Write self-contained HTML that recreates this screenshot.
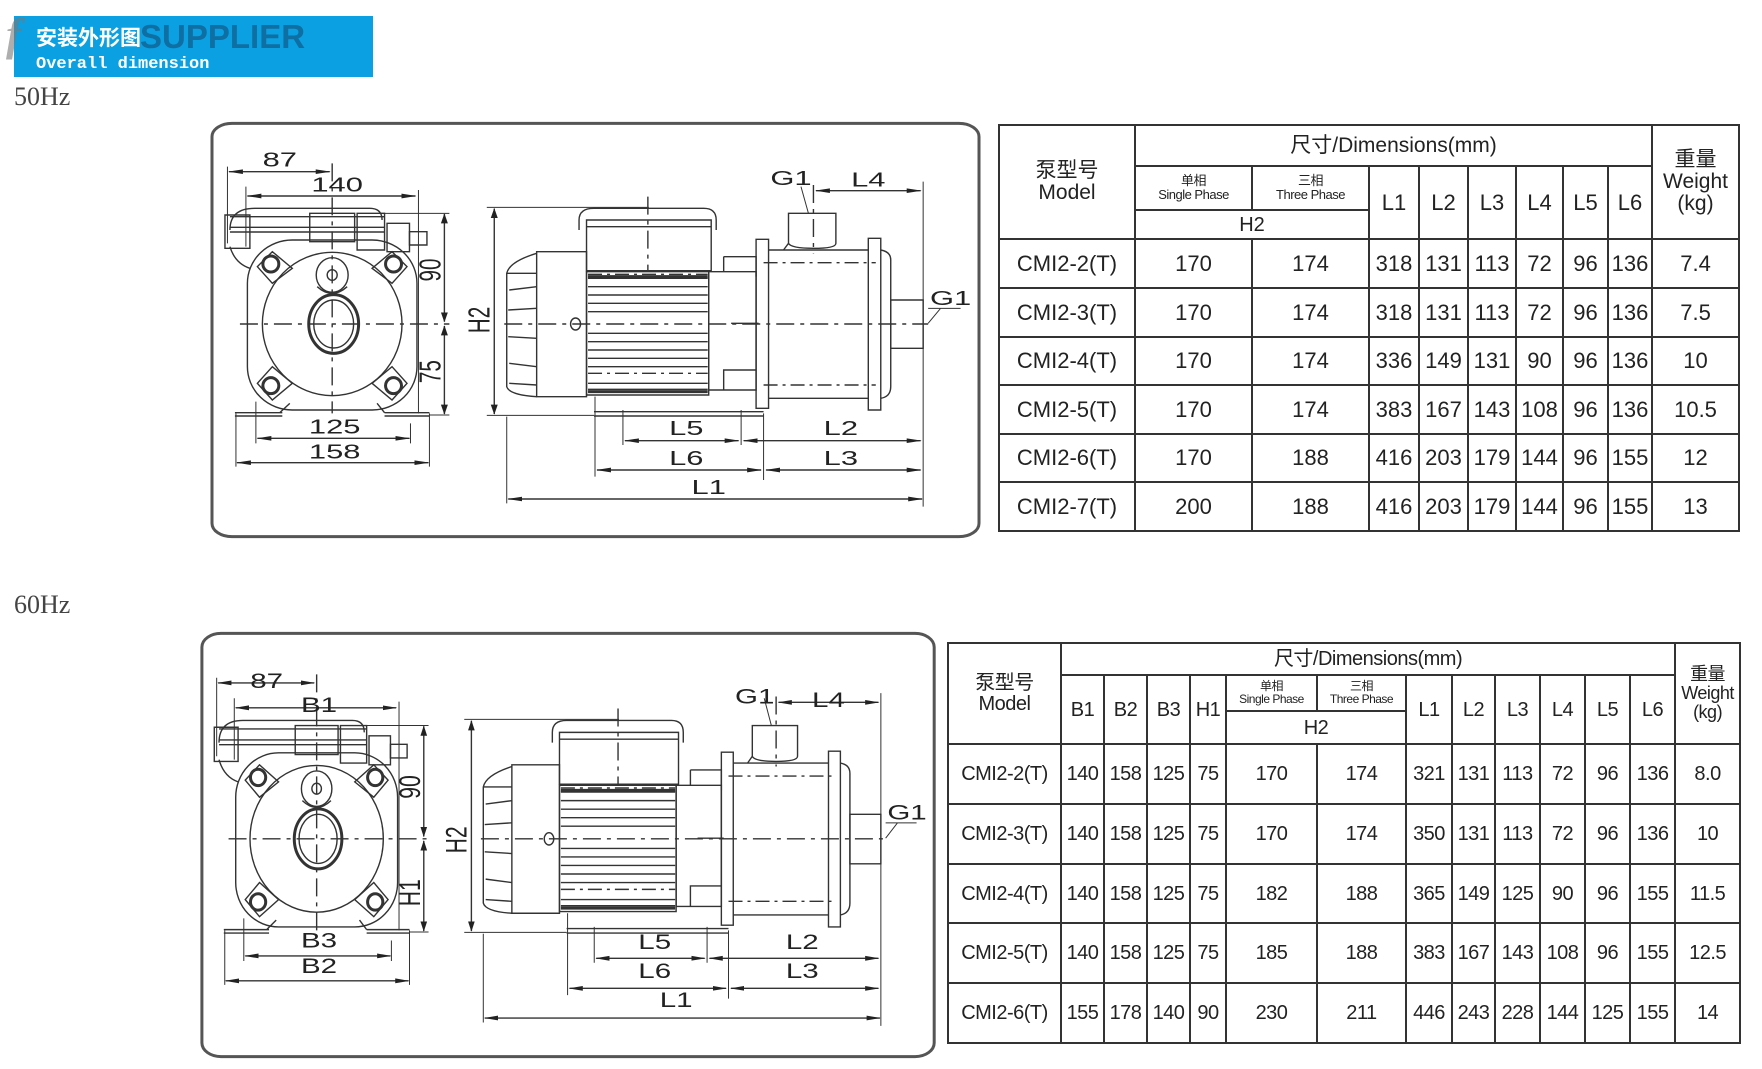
<!DOCTYPE html>
<html><head><meta charset="utf-8">
<style>
html,body{margin:0;padding:0;background:#fff;}
body{width:1762px;height:1069px;position:relative;overflow:hidden;font-family:"Liberation Sans","Noto Sans CJK SC",sans-serif;color:#222;}
.abs{position:absolute;}
table{border-collapse:collapse;table-layout:fixed;position:absolute;}
td{border:2px solid #333;padding:0;text-align:center;vertical-align:middle;white-space:nowrap;overflow:hidden;line-height:1;}
.t1 td{font-size:22px;}
.t2 td{font-size:20px;letter-spacing:-0.5px;}
.sm{font-size:13px !important;line-height:1.05 !important;letter-spacing:-0.5px;}
.sm2{font-size:12px !important;line-height:1.05 !important;letter-spacing:-0.8px;}
svg text{font-family:"Liberation Sans",sans-serif;fill:#222;}
</style></head><body>

<!-- header -->
<div class="abs" style="left:14px;top:16px;width:359px;height:61px;background:#0aa0e2;"></div>
<div class="abs" style="left:6px;top:8px;width:40px;height:50px;font:italic bold 46px 'Liberation Serif',serif;color:rgba(120,120,120,0.6);">f</div>
<div class="abs" style="left:36px;top:22px;font:bold 21px 'Noto Sans CJK SC',sans-serif;color:#fff;">安装外形图</div>
<div class="abs" style="left:140px;top:18px;font:bold 33px 'Liberation Sans',sans-serif;color:rgba(20,70,110,0.55);">SUPPLIER</div>
<div class="abs" style="left:36px;top:55px;font:bold 17px 'Liberation Mono',monospace;color:#fff;">Overall dimension</div>
<div class="abs" style="left:14px;top:82px;font:26px 'Liberation Serif',serif;color:#444;">50Hz</div>
<div class="abs" style="left:14px;top:590px;font:26px 'Liberation Serif',serif;color:#444;">60Hz</div>

<!-- drawing 1 -->
<svg class="abs" style="left:210px;top:120px;" width="773" height="420" viewBox="0 0 1550 1260" preserveAspectRatio="none">
<defs>
<marker id="ar" markerUnits="userSpaceOnUse" markerWidth="30" markerHeight="20" refX="28" refY="10" orient="auto-start-reverse" viewBox="0 0 30 20"><path d="M0,3 L30,10 L0,17 Z" fill="#222"/></marker>
</defs>
<g id="pump" fill="none" stroke="#333" stroke-width="1.4">
<g vector-effect="non-scaling-stroke">
<rect x="4" y="10" width="1538" height="1240" rx="40" ry="40" stroke="#555" stroke-width="3" vector-effect="non-scaling-stroke"/>
<path d="M40,330 Q40,265 90,265 L320,265 Q345,265 345,300" vector-effect="non-scaling-stroke"/>
<path d="M40,290 H350 M40,322 H350 M40,336 H350" vector-effect="non-scaling-stroke"/>
<rect x="30" y="285" width="50" height="100" vector-effect="non-scaling-stroke"/>
<rect x="200" y="280" width="90" height="85" vector-effect="non-scaling-stroke"/>
<rect x="295" y="280" width="55" height="110" vector-effect="non-scaling-stroke"/>
<rect x="355" y="310" width="45" height="85" vector-effect="non-scaling-stroke"/>
<rect x="400" y="335" width="35" height="40" vector-effect="non-scaling-stroke"/>
<path d="M40,380 Q50,430 80,445" vector-effect="non-scaling-stroke"/>
<rect x="75" y="360" width="340" height="510" rx="90" ry="130" vector-effect="non-scaling-stroke"/>
<ellipse cx="245" cy="612" rx="140" ry="215" vector-effect="non-scaling-stroke"/>
<g vector-effect="non-scaling-stroke">
<path d="M95,440 L125,395 L165,445 L125,490 Z M395,440 L365,395 L325,445 L365,490 Z M95,790 L125,740 L165,790 L125,840 Z M395,790 L365,740 L325,790 L365,840 Z" vector-effect="non-scaling-stroke"/>
<ellipse cx="122" cy="432" rx="16" ry="24" stroke-width="3" vector-effect="non-scaling-stroke"/>
<ellipse cx="368" cy="432" rx="16" ry="24" stroke-width="3" vector-effect="non-scaling-stroke"/>
<ellipse cx="122" cy="797" rx="16" ry="24" stroke-width="3" vector-effect="non-scaling-stroke"/>
<ellipse cx="368" cy="797" rx="16" ry="24" stroke-width="3" vector-effect="non-scaling-stroke"/>
</g>
<ellipse cx="245" cy="465" rx="32" ry="52" vector-effect="non-scaling-stroke"/>
<ellipse cx="245" cy="465" rx="10" ry="16" vector-effect="non-scaling-stroke"/>
<path d="M215,500 Q245,540 275,500" vector-effect="non-scaling-stroke"/>
<ellipse cx="248" cy="612" rx="50" ry="88" stroke-width="3" vector-effect="non-scaling-stroke"/>
<ellipse cx="248" cy="612" rx="40" ry="72" vector-effect="non-scaling-stroke"/>
<path d="M50,878 H145 M50,888 H145 M350,878 H440 M350,888 H440 M140,878 L160,850 M350,878 L335,850" vector-effect="non-scaling-stroke"/>
<path d="M60,612 H480 M245,130 V880" stroke-dasharray="18 6 4 6" vector-effect="non-scaling-stroke"/>
<path d="M35,140 V370 M72,200 V380 M418,210 V880 M340,280 H480 M440,885 H480 M92,845 V970 M402,910 V970 M52,880 V1040 M440,880 V1040" stroke-width="1" vector-effect="non-scaling-stroke"/>
<line x1="38" y1="155" x2="240" y2="155" marker-start="url(#ar)" marker-end="url(#ar)" vector-effect="non-scaling-stroke"/>
<line x1="75" y1="228" x2="412" y2="228" marker-start="url(#ar)" marker-end="url(#ar)" vector-effect="non-scaling-stroke"/>
<line x1="470" y1="282" x2="470" y2="605" marker-start="url(#ar)" marker-end="url(#ar)" vector-effect="non-scaling-stroke"/>
<line x1="470" y1="618" x2="470" y2="882" marker-start="url(#ar)" marker-end="url(#ar)" vector-effect="non-scaling-stroke"/>
<line x1="95" y1="955" x2="400" y2="955" marker-start="url(#ar)" marker-end="url(#ar)" vector-effect="non-scaling-stroke"/>
<line x1="54" y1="1028" x2="438" y2="1028" marker-start="url(#ar)" marker-end="url(#ar)" vector-effect="non-scaling-stroke"/>
<path d="M655,395 H755 V830 H655 Z" vector-effect="non-scaling-stroke"/>
<path d="M655,400 Q600,425 595,460 V800 Q600,825 655,830 M595,460 H655 M600,510 L655,500 M598,570 L655,565 M598,650 L655,655 M600,730 L655,740 M600,790 L655,795" vector-effect="non-scaling-stroke"/>
<rect x="755" y="455" width="245" height="370" vector-effect="non-scaling-stroke"/>
<path d="M758,475 H998 M758,500 H998 M758,525 H998 M758,550 H998 M758,575 H998 M758,640 H998 M758,665 H998 M758,690 H998 M758,715 H998 M758,740 H998 M758,790 H998 M758,808 H998" vector-effect="non-scaling-stroke"/>
<path d="M758,470 H998 M758,815 H998" stroke-width="3" vector-effect="non-scaling-stroke"/>
<path d="M758,463 H998 M758,760 H998" stroke-dasharray="14 5 3 5" vector-effect="non-scaling-stroke"/>
<path d="M740,330 V300 Q740,265 770,265 H990 Q1015,265 1015,300 V330" vector-effect="non-scaling-stroke"/>
<rect x="755" y="300" width="250" height="152" vector-effect="non-scaling-stroke"/>
<path d="M755,320 H1005" vector-effect="non-scaling-stroke"/>
<ellipse cx="733" cy="612" rx="10" ry="18" vector-effect="non-scaling-stroke"/>
<rect x="1000" y="455" width="95" height="355" vector-effect="non-scaling-stroke"/>
<path d="M1030,410 H1095 V470 M1030,410 V455 M1030,810 V750 H1095 M1045,610 H1100" vector-effect="non-scaling-stroke"/>
<rect x="1095" y="358" width="25" height="507" vector-effect="non-scaling-stroke"/>
<rect x="1320" y="355" width="25" height="515" vector-effect="non-scaling-stroke"/>
<path d="M1120,390 H1320 M1120,835 H1320" vector-effect="non-scaling-stroke"/>
<path d="M1110,428 H1335 M1110,795 H1335" stroke-dasharray="14 5 3 5" vector-effect="non-scaling-stroke"/>
<path d="M1345,390 Q1365,395 1365,420 V800 Q1365,830 1345,835" vector-effect="non-scaling-stroke"/>
<rect x="1365" y="540" width="65" height="145" vector-effect="non-scaling-stroke"/>
<path d="M1160,370 V280 H1255 V370 M1160,370 Q1165,385 1210,385 Q1255,385 1255,370 M1150,390 Q1160,370 1160,370" vector-effect="non-scaling-stroke"/>
<path d="M590,612 H1440 M878,230 V450 M1210,195 V400" stroke-dasharray="18 6 4 6" vector-effect="non-scaling-stroke"/>
<path d="M770,875 H1110 M770,888 H1110" vector-effect="non-scaling-stroke"/>
<path d="M555,262 H880 M555,886 H770 M772,830 V1070 M828,870 V975 M1065,870 V975 M1110,880 V1080 M595,890 V1150 M1430,185 V1160 M1185,200 L1200,280 M1465,565 L1440,610 M1440,565 H1505" stroke-width="1" vector-effect="non-scaling-stroke"/>
<line x1="570" y1="266" x2="570" y2="882" marker-start="url(#ar)" marker-end="url(#ar)" vector-effect="non-scaling-stroke"/>
<line x1="1215" y1="212" x2="1425" y2="212" marker-start="url(#ar)" marker-end="url(#ar)" vector-effect="non-scaling-stroke"/>
<line x1="832" y1="962" x2="1060" y2="962" marker-start="url(#ar)" marker-end="url(#ar)" vector-effect="non-scaling-stroke"/>
<line x1="1070" y1="962" x2="1425" y2="962" marker-start="url(#ar)" marker-end="url(#ar)" vector-effect="non-scaling-stroke"/>
<line x1="776" y1="1050" x2="1105" y2="1050" marker-start="url(#ar)" marker-end="url(#ar)" vector-effect="non-scaling-stroke"/>
<line x1="1115" y1="1050" x2="1425" y2="1050" marker-start="url(#ar)" marker-end="url(#ar)" vector-effect="non-scaling-stroke"/>
<line x1="598" y1="1137" x2="1428" y2="1137" marker-start="url(#ar)" marker-end="url(#ar)" vector-effect="non-scaling-stroke"/>
</g>
</g>
<g font-size="62" text-anchor="middle">
<text x="140" y="140">87</text>
<text x="255" y="215">140</text>
<text x="250" y="940">125</text>
<text x="250" y="1015">158</text>
<text transform="translate(462,450) rotate(-90)" >90</text>
<text transform="translate(462,755) rotate(-90)">75</text>
<text transform="translate(560,600) rotate(-90)">H2</text>
<text x="1165" y="195">G1</text>
<text x="1320" y="200">L4</text>
<text x="1485" y="555">G1</text>
<text x="955" y="945">L5</text>
<text x="1265" y="945">L2</text>
<text x="955" y="1035">L6</text>
<text x="1265" y="1035">L3</text>
<text x="1000" y="1122">L1</text>
</g>
</svg>

<!-- drawing 2 -->
<svg class="abs" style="left:200px;top:630px;" width="738" height="430" viewBox="0 0 1550 1260" preserveAspectRatio="none">
<use href="#pump"/>
<g font-size="62" text-anchor="middle">
<text x="140" y="170">87</text>
<text x="250" y="240">B1</text>
<text x="250" y="930">B3</text>
<text x="250" y="1005">B2</text>
<text transform="translate(462,460) rotate(-90)">90</text>
<text transform="translate(462,770) rotate(-90)">H1</text>
<text transform="translate(560,615) rotate(-90)">H2</text>
<text x="1165" y="215">G1</text>
<text x="1320" y="225">L4</text>
<text x="1485" y="555">G1</text>
<text x="955" y="935">L5</text>
<text x="1265" y="935">L2</text>
<text x="955" y="1020">L6</text>
<text x="1265" y="1020">L3</text>
<text x="1000" y="1105">L1</text>
</g>
</svg>

<!-- table 1 -->
<table class="t1" style="left:998px;top:124px;width:740px;">
<colgroup><col style="width:136px"><col style="width:117px"><col style="width:117px"><col style="width:50px"><col style="width:49px"><col style="width:48px"><col style="width:47px"><col style="width:45px"><col style="width:44px"><col style="width:87px"></colgroup>
<tr style="height:41px"><td rowspan="3" style="font-size:21px;line-height:1.05">泵型号<br>Model</td><td colspan="8" style="font-size:21px">尺寸/Dimensions(mm)</td><td rowspan="3" style="font-size:21px;line-height:1.05">重量<br>Weight<br>(kg)</td></tr>
<tr style="height:44px"><td class="sm">单相<br>Single Phase</td><td class="sm">三相<br>Three Phase</td><td rowspan="2">L1</td><td rowspan="2">L2</td><td rowspan="2">L3</td><td rowspan="2">L4</td><td rowspan="2">L5</td><td rowspan="2">L6</td></tr>
<tr style="height:29px"><td colspan="2" style="font-size:20px">H2</td></tr>
<tr style="height:49px"><td>CMI2-2(T)</td><td>170</td><td>174</td><td>318</td><td>131</td><td>113</td><td>72</td><td>96</td><td>136</td><td>7.4</td></tr>
<tr style="height:49px"><td>CMI2-3(T)</td><td>170</td><td>174</td><td>318</td><td>131</td><td>113</td><td>72</td><td>96</td><td>136</td><td>7.5</td></tr>
<tr style="height:48px"><td>CMI2-4(T)</td><td>170</td><td>174</td><td>336</td><td>149</td><td>131</td><td>90</td><td>96</td><td>136</td><td>10</td></tr>
<tr style="height:49px"><td>CMI2-5(T)</td><td>170</td><td>174</td><td>383</td><td>167</td><td>143</td><td>108</td><td>96</td><td>136</td><td>10.5</td></tr>
<tr style="height:48px"><td>CMI2-6(T)</td><td>170</td><td>188</td><td>416</td><td>203</td><td>179</td><td>144</td><td>96</td><td>155</td><td>12</td></tr>
<tr style="height:49px"><td>CMI2-7(T)</td><td>200</td><td>188</td><td>416</td><td>203</td><td>179</td><td>144</td><td>96</td><td>155</td><td>13</td></tr>
</table>

<!-- table 2 -->
<table class="t2" style="left:947px;top:642px;width:792px;">
<colgroup><col style="width:113px"><col style="width:43px"><col style="width:43px"><col style="width:43px"><col style="width:36px"><col style="width:91px"><col style="width:89px"><col style="width:46px"><col style="width:43px"><col style="width:45px"><col style="width:45px"><col style="width:45px"><col style="width:45px"><col style="width:65px"></colgroup>
<tr style="height:32px"><td rowspan="3" style="line-height:1.05">泵型号<br>Model</td><td colspan="12">尺寸/Dimensions(mm)</td><td rowspan="3" style="font-size:18px;line-height:1.05">重量<br>Weight<br>(kg)</td></tr>
<tr style="height:36px"><td rowspan="2">B1</td><td rowspan="2">B2</td><td rowspan="2">B3</td><td rowspan="2">H1</td><td class="sm2">单相<br>Single Phase</td><td class="sm2">三相<br>Three Phase</td><td rowspan="2">L1</td><td rowspan="2">L2</td><td rowspan="2">L3</td><td rowspan="2">L4</td><td rowspan="2">L5</td><td rowspan="2">L6</td></tr>
<tr style="height:33px"><td colspan="2">H2</td></tr>
<tr style="height:60px"><td>CMI2-2(T)</td><td>140</td><td>158</td><td>125</td><td>75</td><td>170</td><td>174</td><td>321</td><td>131</td><td>113</td><td>72</td><td>96</td><td>136</td><td>8.0</td></tr>
<tr style="height:60px"><td>CMI2-3(T)</td><td>140</td><td>158</td><td>125</td><td>75</td><td>170</td><td>174</td><td>350</td><td>131</td><td>113</td><td>72</td><td>96</td><td>136</td><td>10</td></tr>
<tr style="height:59px"><td>CMI2-4(T)</td><td>140</td><td>158</td><td>125</td><td>75</td><td>182</td><td>188</td><td>365</td><td>149</td><td>125</td><td>90</td><td>96</td><td>155</td><td>11.5</td></tr>
<tr style="height:60px"><td>CMI2-5(T)</td><td>140</td><td>158</td><td>125</td><td>75</td><td>185</td><td>188</td><td>383</td><td>167</td><td>143</td><td>108</td><td>96</td><td>155</td><td>12.5</td></tr>
<tr style="height:60px"><td>CMI2-6(T)</td><td>155</td><td>178</td><td>140</td><td>90</td><td>230</td><td>211</td><td>446</td><td>243</td><td>228</td><td>144</td><td>125</td><td>155</td><td>14</td></tr>
</table>

</body></html>
